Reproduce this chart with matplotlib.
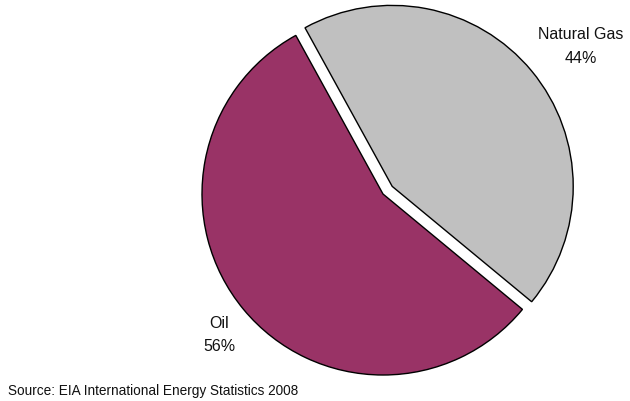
import matplotlib.pyplot as plt

# share of fuel (percent)
labels = ['Oil', 'Natural Gas']
shares = [56, 44]
colors = ['#993366', '#C0C0C0']
explode = [0, 0.066]
source = 'Source: EIA International Energy Statistics 2008'

plt.rcParams['font.family'] = ['Liberation Sans', 'DejaVu Sans']

fig = plt.figure(figsize=(6.3, 4.02), dpi=100)
ax = fig.add_axes([0, 0, 1, 1])

# pie starts where oil begins (upper left), goes counter-clockwise
wedges, _ = ax.pie(shares, colors=colors, explode=explode, startangle=118.8,
                   radius=1, wedgeprops=dict(edgecolor='black', linewidth=1.0))

# pixel layout: centre at (383, 195) px, radius 181 px
r = 181.0
cx, cy = 383.0, 402 - 195.0
ax.set_xlim(-cx / r, (630 - cx) / r)
ax.set_ylim(-cy / r, (402 - cy) / r)
ax.set_aspect('auto')
ax.axis('off')

# slice labels (positions in pixels -> data units)
ax.text((581 - cx) / r, ((402 - 46) - cy) / r,
        f'{labels[1]}\n{shares[1]}%', ha='center', va='center', fontsize=11.5,
        linespacing=1.75, color='#111111')
ax.text((219 - cx) / r, ((402 - 335) - cy) / r,
        f'{labels[0]}\n{shares[0]}%', ha='center', va='center', fontsize=11.5,
        linespacing=1.7, color='#111111')

fig.text(8 / 630, 4 / 402, source, ha='left', va='bottom', fontsize=9.8, color='#111111')

fig.savefig('out.png', dpi=100)
